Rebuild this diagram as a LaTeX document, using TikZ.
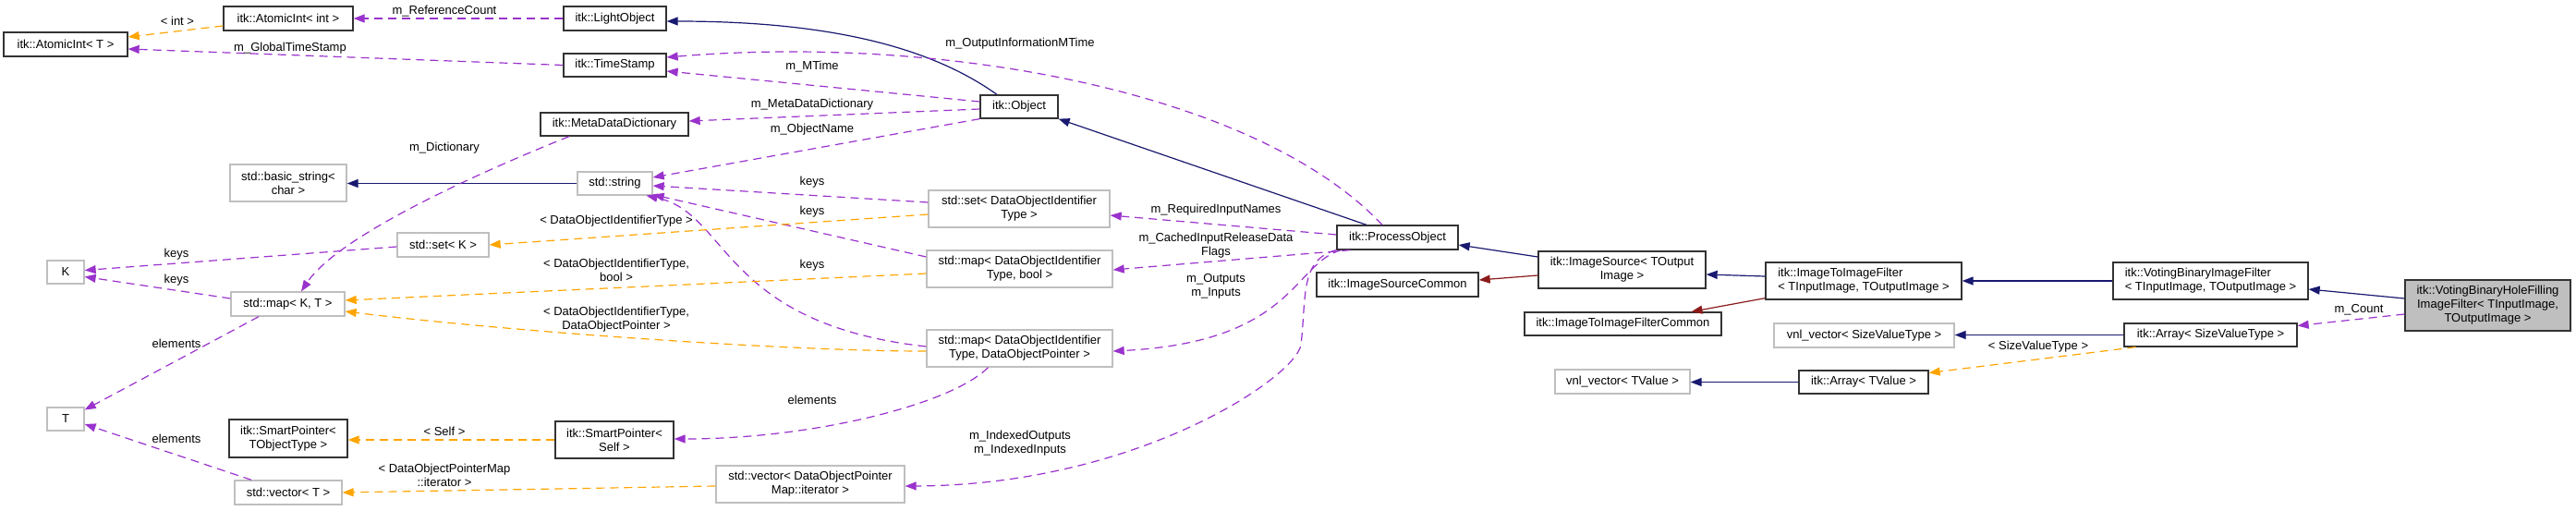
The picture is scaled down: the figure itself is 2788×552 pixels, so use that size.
\documentclass[tikz,border=0pt]{standalone}
\usepackage{fontspec}
\setmainfont{Liberation Sans}
\usetikzlibrary{arrows.meta,calc}
\definecolor{usecol}{HTML}{9A32CD}
\definecolor{tmplcol}{HTML}{FFA500}
\definecolor{inhcol}{HTML}{191970}
\definecolor{privcol}{HTML}{8B1A1A}
\definecolor{undoccol}{HTML}{BFBFBF}
\definecolor{doccol}{HTML}{333333}
\begin{document}
\begin{tikzpicture}[x=1pt,y=-1pt,
  cls/.style={draw=doccol, line width=1.3pt, inner sep=0pt, fill=white,
    font=\fontsize{13}{15}\selectfont, align=center},
  undoc/.style={cls, draw=undoccol},
  lbl/.style={inner sep=0pt, font=\fontsize{13}{15}\selectfont, align=center},
  tipA/.style={-{Triangle[length=12pt,width=9pt]}},
  inh/.style={tipA, draw=inhcol, line width=1.2pt},
  priv/.style={tipA, draw=privcol, line width=1.2pt},
  use/.style={tipA, draw=usecol, line width=1.2pt, dash pattern=on 9pt off 6pt},
  tmpl/.style={tipA, draw=tmplcol, line width=1.2pt, dash pattern=on 9pt off 6pt}]
\useasboundingbox (0,0) rectangle (2788,552);
\fill[white] (0,0) rectangle (2788,552);

% nodes
\node[cls, minimum width=134pt, minimum height=26pt] (aiT) at (71,48) {itk::AtomicInt< T >};
\node[cls, minimum width=140pt, minimum height=26pt] (aiInt) at (312,20) {itk::AtomicInt< int >};
\node[cls, minimum width=111pt, minimum height=26pt] (light) at (665.5,20) {itk::LightObject};
\node[cls, minimum width=111pt, minimum height=25pt] (ts) at (665.5,70.5) {itk::TimeStamp};
\node[cls, minimum width=160pt, minimum height=25pt] (mdd) at (665,134.5) {itk::MetaDataDictionary};
\node[cls, minimum width=84pt, minimum height=25pt] (obj) at (1103,115.5) {itk::Object};
\node[undoc, minimum width=126pt, minimum height=40pt] (bstr) at (312,198) {std::basic\_string<\\char >};
\node[undoc, minimum width=81pt, minimum height=25pt] (str) at (665.5,198.5) {std::string};
\node[undoc, minimum width=99pt, minimum height=26pt] (setK) at (479.5,265) {std::set< K >};
\node[undoc, minimum width=196pt, minimum height=40pt] (setD) at (1103,226) {std::set< DataObjectIdentifier\\Type >};
\node[undoc, minimum width=40pt, minimum height=25pt] (K) at (71,294.5) {K};
\node[undoc, minimum width=123pt, minimum height=26pt] (mapKT) at (311.5,329) {std::map< K, T >};
\node[undoc, minimum width=201pt, minimum height=40pt] (mapDB) at (1103.5,291) {std::map< DataObjectIdentifier\\Type, bool >};
\node[undoc, minimum width=201pt, minimum height=40pt] (mapDP) at (1103.5,377) {std::map< DataObjectIdentifier\\Type, DataObjectPointer >};
\node[undoc, minimum width=40pt, minimum height=25pt] (T) at (71,453.5) {T};
\node[cls, minimum width=128pt, minimum height=41pt] (spT) at (312,474.5) {itk::SmartPointer<\\TObjectType >};
\node[cls, minimum width=128pt, minimum height=40pt] (spS) at (665,476) {itk::SmartPointer<\\Self >};
\node[undoc, minimum width=116pt, minimum height=26pt] (vecT) at (312,533) {std::vector< T >};
\node[undoc, minimum width=204pt, minimum height=40pt] (vecD) at (877,524) {std::vector< DataObjectPointer\\Map::iterator >};
\node[cls, minimum width=131pt, minimum height=26pt] (po) at (1512.5,257) {itk::ProcessObject};
\node[cls, minimum width=175pt, minimum height=26pt] (isc) at (1512.5,308) {itk::ImageSourceCommon};
\node[cls, minimum width=181pt, minimum height=40pt] (is) at (1755.5,292) {itk::ImageSource< TOutput\\Image >};
\node[cls, minimum width=213pt, minimum height=25pt] (itifc) at (1756.5,350.5) {itk::ImageToImageFilterCommon};
\node[cls, minimum width=212pt, minimum height=40pt, align=left] (itif) at (2017,304) {itk::ImageToImageFilter\\< TInputImage, TOutputImage >};
\node[undoc, minimum width=195pt, minimum height=26pt] (vnlS) at (2017.5,363) {vnl\_vector< SizeValueType >};
\node[undoc, minimum width=146pt, minimum height=26pt] (vnlT) at (1756,413) {vnl\_vector< TValue >};
\node[cls, minimum width=140pt, minimum height=25pt] (arrT) at (2017,413.5) {itk::Array< TValue >};
\node[cls, minimum width=211pt, minimum height=40pt, align=left] (vbif) at (2392.5,304) {itk::VotingBinaryImageFilter\\< TInputImage, TOutputImage >};
\node[cls, minimum width=187pt, minimum height=25pt] (arrS) at (2392.5,362.5) {itk::Array< SizeValueType >};
\node[cls, fill=undoccol, minimum width=179pt, minimum height=55pt] (vbhf) at (2692.5,330.5) {itk::VotingBinaryHoleFilling\\ImageFilter< TInputImage,\\TOutputImage >};

% inheritance (public)
\draw[inh] ($(obj.north)+(-24,0)$) .. controls +(-70,-50) and +(180,0) .. ($(light.east)+(0,3)$);
\draw[inh] ($(po.north)+(-33.5,0)$) -- (obj.south east);
\draw[inh] (str.west) -- (str.west -| bstr.east);
\draw[inh] ($(is.west)+(0,-14)$) -- ($(po.east)+(0,8)$);
\draw[inh] ($(itif.west)+(0,-5)$) -- ($(is.east)+(0,5)$);
\draw[inh] (vbif.west) -- (itif.east);
\draw[inh] ($(vbhf.west)+(0,-7.5)$) -- ($(vbif.east)+(0,9)$);
\draw[inh] (arrS.west) -- (arrS.west -| vnlS.east);
\draw[inh] (arrT.west) -- (arrT.west -| vnlT.east);
% inheritance (private)
\draw[priv] ($(is.west)+(0,6)$) -- ($(isc.east)+(0,-5)$);
\draw[priv] ($(itif.south west)+(0,-2)$) -- ($(itifc.north)+(74,0)$);

% usage
\draw[use] (light.west) -- (aiInt.east);
\draw[use] (ts.west) -- ($(aiT.east)+(0,5)$);
\draw[use] ($(obj.west)+(0,-5.5)$) -- ($(ts.east)+(0,6.5)$);
\draw[use] ($(po.north)+(-16.5,0)$) .. controls +(-136,-144) and +(300,-25) .. ($(ts.east)+(0,-8.5)$);
\draw[use] ($(obj.west)+(0,2.5)$) -- ($(mdd.east)+(0,-3.5)$);
\draw[use] (obj.south west) -- ($(str.east)+(0,-6.5)$);
\draw[use] ($(mdd.south)+(-49,0)$) .. controls +(-100,40) and +(40,-60) .. ($(mapKT.north)+(14.5,0)$);
\draw[use] ($(setD.west)+(0,-7)$) -- ($(str.east)+(0,2.5)$);
\draw[use] ($(mapDB.west)+(0,-13)$) -- ($(str.south east)+(0,-1)$);
\draw[use] ($(mapDP.west)+(0,-2)$) .. controls +(-223,-25) and +(90,19) .. ($(str.south)+(34,0)$);
\draw[use] ($(setK.west)+(0,2)$) -- ($(K.east)+(0,-2)$);
\draw[use] ($(mapKT.west)+(0,-6)$) -- ($(K.east)+(0,5)$);
\draw[use] ($(mapKT.south)+(-31.5,0)$) -- ($(T.east)+(0,-10)$);
\draw[use] ($(vecT.north)+(-40,0)$) -- ($(T.east)+(0,5.5)$);
\draw[use] ($(mapDP.south)+(-34,0)$) .. controls +(-40,40) and +(150,0) .. ($(spS.east)+(0,-1)$);
\draw[use] ($(po.west)+(0,-3)$) -- ($(setD.east)+(0,7)$);
\draw[use] ($(po.south west)+(15,0)$) -- ($(mapDB.east)+(0,1)$);
\draw[use] ($(po.south west)+(5,0)$) .. controls +(-52,15) and +(196,-10) .. ($(mapDP.east)+(0,3)$);
\draw[use] (po.south west) .. controls +(-40,10) and +(6,-50) .. (1408,373)
  .. controls +(-5,35) and +(251,-1) .. ($(vecD.east)+(0,2)$);
\draw[use] ($(vbhf.west)+(0,9.5)$) -- ($(arrS.east)+(0,-10)$);

% template instances
\draw[tmpl] ($(aiInt.west)+(0,8)$) -- ($(aiT.east)+(0,-8)$);
\draw[tmpl] ($(setD.west)+(0,6)$) -- (setK.east);
\draw[tmpl] ($(mapDB.west)+(0,5)$) -- ($(mapKT.east)+(0,-4)$);
\draw[tmpl] ($(mapDP.west)+(0,3)$) .. controls +(-150,0) and +(180,22) .. ($(mapKT.east)+(0,8)$);
\draw[tmpl] (spS.west) -- (spS.west -| spT.east);
\draw[tmpl] ($(vecD.west)+(0,2)$) -- (vecT.east);
\draw[tmpl] ($(arrS.south west)+(13,0)$) -- ($(arrT.east)+(0,-10)$);

% labels
\node[lbl] (l1) at (192,23) {< int >};
\node[lbl] (l2) at (481,12) {m\_ReferenceCount};
\node[lbl] (l3) at (314,52) {m\_GlobalTimeStamp};
\node[lbl] (l4) at (1104,47) {m\_OutputInformationMTime};
\node[lbl] (l5) at (879,72) {m\_MTime};
\node[lbl] (l6) at (879,113) {m\_MetaDataDictionary};
\node[lbl] (l7) at (879,140) {m\_ObjectName};
\node[lbl] (l8) at (481,160) {m\_Dictionary};
\node[lbl] (l9) at (879,197) {keys};
\node[lbl] (l10) at (879,229) {keys};
\node[lbl] (l11) at (879,287) {keys};
\node[lbl] (l12) at (667,239) {< DataObjectIdentifierType >};
\node[lbl] (l13) at (667,292) {< DataObjectIdentifierType,\\bool >};
\node[lbl] (l14) at (667,346) {< DataObjectIdentifierType,\\DataObjectPointer >};
\node[lbl] (l15) at (191,275) {keys};
\node[lbl] (l16) at (191,303) {keys};
\node[lbl] (l17) at (191,372) {elements};
\node[lbl] (l18) at (191,475) {elements};
\node[lbl] (l19) at (879,433) {elements};
\node[lbl] (l20) at (481,467) {< Self >};
\node[lbl] (l21) at (481,514) {< DataObjectPointerMap\\::iterator >};
\node[lbl] (l22) at (1316,227) {m\_RequiredInputNames};
\node[lbl] (l23) at (1316,266) {m\_CachedInputReleaseData\\Flags};
\node[lbl] (l24) at (1316,310) {m\_Outputs\\m\_Inputs};
\node[lbl] (l25) at (1104,480) {m\_IndexedOutputs\\m\_IndexedInputs};
\node[lbl] (l26) at (2553,335) {m\_Count};
\node[lbl] (l27) at (2206,375) {< SizeValueType >};
\end{tikzpicture}
\end{document}
